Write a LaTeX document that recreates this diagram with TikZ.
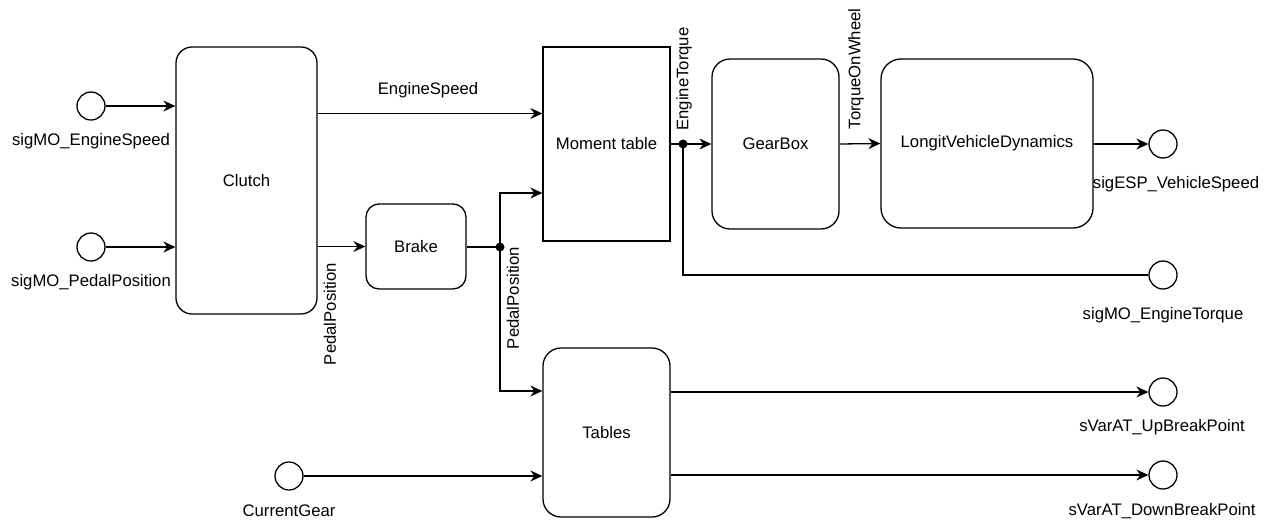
\documentclass[tikz,border=0pt]{standalone}
\usepackage{fontspec}
\setmainfont{Liberation Sans}
\usetikzlibrary{arrows.meta}
\begin{document}
\begin{tikzpicture}[x=1pt,y=-1pt,
  font=\fontsize{16.7}{20}\selectfont,
  line width=1.3pt,
  block/.style={draw, rounded corners=16pt, inner sep=0pt},
  plainblock/.style={draw, inner sep=0pt},
  port/.style={draw, circle, minimum size=28pt, inner sep=0pt},
  junction/.style={fill, circle, minimum size=9pt, inner sep=0pt},
  lbl/.style={inner sep=0pt},
  arr/.style={-{Stealth[length=12pt,width=11pt,inset=4pt]}}]
\useasboundingbox (0,0) rectangle (1271,520);

% processing blocks
\node[block, minimum width=141pt, minimum height=267pt] (clutch) at (246.5,180.5) {Clutch};
\node[plainblock, minimum width=127pt, minimum height=194pt] (moment) at (606.5,144) {Moment table};
\node[block, rounded corners=13pt, minimum width=100pt, minimum height=85pt] (brake) at (416,246.5) {Brake};
\node[block, rounded corners=18pt, minimum width=127pt, minimum height=170pt] (gear) at (775.5,144) {GearBox};
\node[block, rounded corners=20pt, minimum width=212pt, minimum height=169pt] (lvd) at (987,143.5) {LongitVehicleDynamics};
\node[block, rounded corners=18pt, minimum width=127pt, minimum height=169pt] (tables) at (606.5,432.5) {Tables};

% signal ports
\node[port] (inSpeed) at (91,106) {};
\node[port] (inPedal) at (91,247) {};
\node[port] (inGear) at (289,476) {};
\node[port] (outSpeed) at (1163,144) {};
\node[port] (outTorque) at (1163,275) {};
\node[port] (outUp) at (1163,392) {};
\node[port] (outDown) at (1163,475) {};

\node[lbl] (lInSpeed) at (91,141) {sigMO\_EngineSpeed};
\node[lbl] (lInPedal) at (91,282) {sigMO\_PedalPosition};
\node[lbl] (lInGear) at (289,511) {CurrentGear};
\node[lbl] (lOutSpeed) at (1176,184) {sigESP\_VehicleSpeed};
\node[lbl] (lOutTorque) at (1163,315) {sigMO\_EngineTorque};
\node[lbl] (lOutUp) at (1162,427) {sVarAT\_UpBreakPoint};
\node[lbl] (lOutDown) at (1162,511) {sVarAT\_DownBreakPoint};

% branch points
\node[junction] (jPedal) at (500,247) {};
\node[junction] (jTorque) at (683,144) {};

% signal names on connectors
\node[lbl] (lEngSpeed) at (428,90) {EngineSpeed};
\node[lbl, rotate=90] (lPedal1) at (330,314) {PedalPosition};
\node[lbl, rotate=90] (lPedal2) at (513,298) {PedalPosition};
\node[lbl, rotate=90] (lEngTorque) at (684,79) {EngineTorque};
\node[lbl, rotate=90] (lTorqueWheel) at (856,69) {TorqueOnWheel};

% connectors
\draw[arr] (inSpeed) -- (inSpeed -| clutch.west);
\draw[arr] (inPedal) -- (inPedal -| clutch.west);
\coordinate (rowSpeed) at (0,113.5);
\draw[arr] (clutch.east |- rowSpeed) -- (moment.west |- rowSpeed);
\draw[arr] (clutch.east |- brake) -- (brake.west);
\draw (brake.east |- jPedal) -- (jPedal.center);
\coordinate (rowPedalM) at (0,193);
\coordinate (rowPedalT) at (0,391);
\draw[arr] (jPedal.center) |- (moment.west |- rowPedalM);
\draw[arr] (jPedal.center) |- (tables.west |- rowPedalT);
\draw (moment.east |- jTorque) -- (jTorque.center);
\draw[arr] (jTorque.center) -- (gear.west);
\draw (jTorque.center) |- (outTorque.west);
\draw[arr] (gear.east) -- (lvd.west);
\draw[arr] (lvd.east |- outSpeed) -- (outSpeed.west);
\draw[arr] (tables.east |- outUp) -- (outUp.west);
\draw[arr] (tables.east |- outDown) -- (outDown.west);
\draw[arr] (inGear) -- (inGear -| tables.west);
\end{tikzpicture}
\end{document}
